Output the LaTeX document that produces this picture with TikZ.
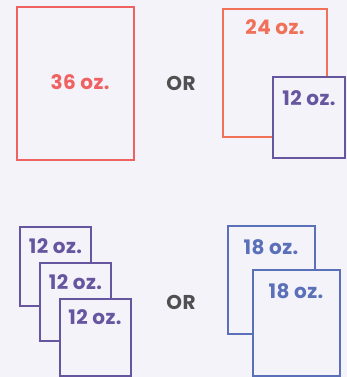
\documentclass[tikz,border=0pt]{standalone}
\usepackage{fontspec}
\setmainfont{Poppins}[LetterSpace=2]
\definecolor{bg}{HTML}{F4F3FA}
\definecolor{cred}{HTML}{F06262}
\definecolor{corange}{HTML}{F07058}
\definecolor{cpurple}{HTML}{6656A0}
\definecolor{cblue}{HTML}{5A70B8}
\definecolor{cgray}{HTML}{505050}
\tikzset{
  box/.style={draw=#1, line width=2.6pt, fill=bg},
  lbl/.style={text=#1, font=\bfseries\fontsize{20}{20}\selectfont, inner sep=0pt},
  ortxt/.style={text=cgray, font=\bfseries\fontsize{20}{20}\selectfont, inner sep=0pt}
}
\begin{document}
\begin{tikzpicture}[x=1pt,y=-1pt]
\fill[bg] (0,0) rectangle (347,377);
\useasboundingbox (0,0) rectangle (347,377);
% top left
\draw[box=cred] (17,7) rectangle (134,160);
\node[lbl=cred] (t36) at (80,82) {36 oz.};
\node[ortxt] (or1) at (181,83) {OR};
% top right
\draw[box=corange] (223,9) rectangle (327,137);
\node[lbl=corange] (t24) at (275,27) {24 oz.};
\draw[box=cpurple] (273,77) rectangle (345,158);
\node[lbl=cpurple] (t12a) at (309,98) {12 oz.};
% bottom left
\draw[box=cpurple] (20,227) rectangle (91,306);
\node[lbl=cpurple] (b1) at (55.5,246) {12 oz.};
\draw[box=cpurple] (40,263) rectangle (111,341);
\node[lbl=cpurple] (b2) at (75.5,282) {12 oz.};
\draw[box=cpurple] (60,299) rectangle (131,376);
\node[lbl=cpurple] (b3) at (95,317) {12 oz.};
\node[ortxt] (or2) at (181,302) {OR};
% bottom right
\draw[box=cblue] (228,226) rectangle (315,334);
\node[lbl=cblue] (c1) at (271,247) {18 oz.};
\draw[box=cblue] (253,270) rectangle (340,376);
\node[lbl=cblue] (c2) at (296,291) {18 oz.};
\end{tikzpicture}
\end{document}
